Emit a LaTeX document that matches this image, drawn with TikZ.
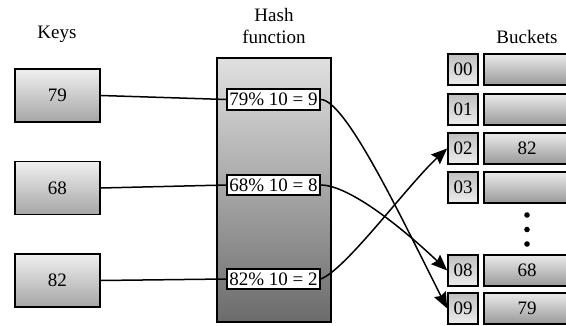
\documentclass[tikz,border=0pt]{standalone}
\usepackage{fontspec}
\setmainfont{Liberation Serif}
\newfontfamily\tnrfont{Liberation Serif}
\usetikzlibrary{arrows.meta}
\begin{document}
\begin{tikzpicture}[x=1pt,y=-1pt,
  font=\tnrfont\fontsize{19}{22}\selectfont,
  keybox/.style={draw=black, line width=1.6pt, top color=gray!12, bottom color=gray!70, minimum width=85pt, minimum height=53pt, inner sep=0pt},
  hashbox/.style={draw=black, line width=1.6pt, top color=gray!24, bottom color=black!58, minimum width=114pt, minimum height=264pt, inner sep=0pt},
  formbox/.style={draw=black, line width=1.3pt, fill=white, minimum width=93pt, minimum height=20pt, inner sep=1pt},
  idxbox/.style={draw=black, line width=1.6pt, top color=gray!50, bottom color=gray!14, minimum width=30pt, minimum height=31pt, inner sep=0pt},
  bktbox/.style={draw=black, line width=1.6pt, top color=gray!16, bottom color=black!40, minimum width=86pt, minimum height=31pt, inner sep=0pt},
  conn/.style={draw=black, line width=1.5pt},
  arr/.style={draw=black, line width=1.5pt, -{Stealth[length=16pt,width=13pt,inset=2pt]}},
  lbl/.style={inner sep=0pt, align=center}
]
\useasboundingbox (0,0) rectangle (566,326);
\clip (0,0) rectangle (566,326);

% labels
\node[lbl] (keys) at (57,34) {Keys};
\node[lbl] (hashlbl) at (274,26) {Hash\\function};
\node[lbl] (bkts) at (527,37) {Buckets};

% keys
\node[keybox] (k79) at (57.5,95.5) {79};
\node[keybox] (k68) at (57.5,188) {68};
\node[keybox] (k82) at (57.5,280.5) {82};

% hash function
\node[hashbox] (hash) at (274,190) {};
\node[formbox, minimum height=21pt] (f79) at (273.5,99.5) {79\% 10 = 9};
\node[formbox] (f68) at (273.5,185) {68\% 10 = 8};
\node[formbox] (f82) at (273.5,279) {82\% 10 = 2};

% buckets
\node[idxbox] (i00) at (463,69.5) {00};
\node[idxbox] (i01) at (463,109.5) {01};
\node[idxbox] (i02) at (463,148.5) {02};
\node[idxbox] (i03) at (463,187.5) {03};
\node[idxbox] (i08) at (463,270.5) {08};
\node[idxbox] (i09) at (463,308.5) {09};
\node[bktbox] (b00) at (527,69.5) {};
\node[bktbox] (b01) at (527,109.5) {};
\node[bktbox] (b02) at (527,148.5) {82};
\node[bktbox] (b03) at (527,187.5) {};
\node[bktbox] (b08) at (527,270.5) {68};
\node[bktbox] (b09) at (527,308.5) {79};

% dots
\fill (527,215) circle (2.8);
\fill (527,229.5) circle (2.8);
\fill (527,244) circle (2.8);

% connectors
\draw[conn] (k79.east) -- (f79.west);
\draw[conn] (k68.east) -- (f68.west);
\draw[conn] (k82.east) -- (f82.west);
\draw[arr] (f79.east) .. controls +(25,0) and +(-45,-89) .. (i09.west);
\draw[arr] (f68.east) .. controls +(30,0) and +(-40,-38) .. (i08.west);
\draw[arr] (f82.east) .. controls +(25,-9) and +(-40,37) .. (i02.west);
\end{tikzpicture}
\end{document}
